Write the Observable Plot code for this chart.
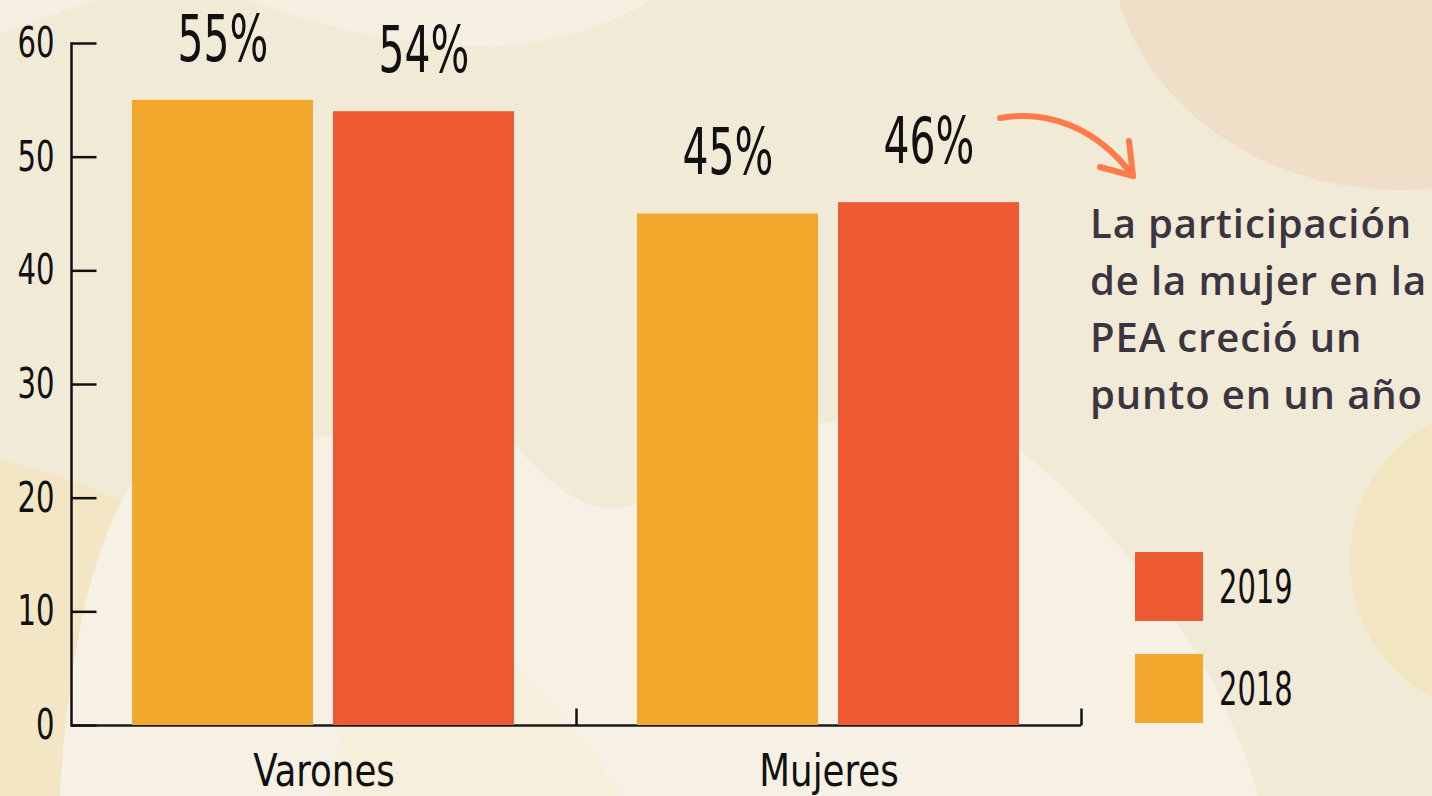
<!DOCTYPE html>
<html>
<head>
<meta charset="utf-8">
<script src="https://cdn.jsdelivr.net/npm/d3@7"></script>
<script src="https://cdn.jsdelivr.net/npm/@observablehq/plot@0.6"></script>
<style>
  html, body { margin: 0; padding: 0; background: #F1EAD7; }
  #wrap { position: relative; width: 1432px; height: 796px; overflow: hidden; }
  #bg, #chart, #arrow { position: absolute; left: 0; top: 0; }
  .cond { font-family: "DejaVu Sans Condensed", "DejaVu Sans", sans-serif; font-stretch: condensed; }
  #note { position: absolute; left: 1090px; top: 194px; font-family: "Open Sans", "Noto Sans", sans-serif; font-weight: 600;
          font-size: 40px; line-height: 57px; letter-spacing: 0.9px; color: #3A3541; white-space: nowrap; }
  #legend { position: absolute; left: 1135px; top: 552px; }
  .item { display: flex; align-items: center; height: 69px; margin-bottom: 33px; }
  .sw { width: 68px; height: 69px; margin-right: 16px; flex: none; }
  .lab { font-size: 46px; color: #111; display: inline-block; transform: scaleX(0.7); transform-origin: left center; }
</style>
</head>
<body>
<div id="wrap">
  <svg id="bg" width="1432" height="796">
    <path d="M0,460 C50,470 100,492 150,512 L150,796 L0,796 Z" fill="#F2E6C4"/>
    <path d="M60,796 C68,650 95,530 140,472 C250,432 420,425 515,445 C555,490 585,510 615,508 C660,505 700,470 760,440 C880,400 960,420 1020,450 C1130,540 1220,660 1258,796 Z" fill="#F7F1E5"/>
    <path d="M420,600 C480,625 560,700 622,796 L330,796 C345,700 370,630 420,600 Z" fill="#F5EFDC"/>
    <path d="M0,0 L0,33 C40,20 70,8 95,0 Z" fill="#F6F0E3"/>
    <path d="M250,0 C330,30 420,50 500,46 C570,40 620,20 650,0 Z" fill="#F6F0E3"/>
    <ellipse cx="1400" cy="-60" rx="290" ry="250" fill="#F0DFC8"/>
    <ellipse cx="1490" cy="560" rx="140" ry="150" fill="#F2E6C2"/>
  </svg>
  <div id="chart" class="cond"></div>
  <svg id="arrow" width="1432" height="796">
    <g fill="none" stroke="#FF7B4C" stroke-width="6" stroke-linecap="round" stroke-linejoin="round">
      <path d="M1000,118 C1045,110 1095,125 1133,176"/>
      <path d="M1129,141 L1133,176 L1100,167"/>
    </g>
  </svg>
  <div id="note">La participación<br>de la mujer en la<br>PEA creció un<br>punto en un año</div>
  <div id="legend" class="cond"></div>
</div>
<script>
// ---- data ----
const groups = ["Varones", "Mujeres"];
const years = ["2018", "2019"];
const values2018 = [55, 45];
const values2019 = [54, 46];
const yTicks = [0, 10, 20, 30, 40, 50, 60];
const yearColors = ["#F1A82C", "#EE5A34"];
const legendOrder = ["2019", "2018"];

const rows = groups.flatMap((g, i) => [
  {group: g, year: years[0], value: values2018[i]},
  {group: g, year: years[1], value: values2019[i]}
]);

const ink = "#111";
const hTick = {draw(ctx) { ctx.moveTo(0, 0); ctx.lineTo(25, 0); }};
const vTick = {draw(ctx) { ctx.moveTo(0, 0); ctx.lineTo(0, -17); }};

const chart = Plot.plot({
  width: 1432,
  height: 796,
  marginLeft: 70,
  marginRight: 351,
  marginTop: 43,
  marginBottom: 71,
  style: {background: "transparent", color: ink, overflow: "visible",
          fontFamily: '"DejaVu Sans Condensed", "DejaVu Sans", sans-serif'},
  fx: {domain: groups, paddingInner: 0, paddingOuter: 0},
  x: {domain: years, paddingInner: 0.099, paddingOuter: 0.3, axis: null},
  y: {domain: [0, 60]},
  color: {domain: years, range: yearColors},
  marks: [
    Plot.ruleY([0], {stroke: "#1a1a1a", strokeWidth: 2.5}),
    Plot.dot([0], {frameAnchor: "bottom-right", symbol: vTick, r: 5, fill: "none", stroke: ink, strokeWidth: 2.5}),
    Plot.barY(rows, {fx: "group", x: "year", y: "value", fill: "year"}),
    Plot.text(rows, {fx: "group", x: "year", y: "value", text: d => `${d.value}%`, dy: -60, fontSize: 64, fill: ink}),
    Plot.frame({anchor: "left", facetAnchor: "left", stroke: ink, strokeWidth: 2.5}),
    Plot.dot(yTicks, {y: d => d, frameAnchor: "left", facetAnchor: "left", symbol: hTick, r: 5, fill: "none", stroke: ink, strokeWidth: 2.5}),
    Plot.axisY(yTicks, {tickSize: 0, tickPadding: 17, fontSize: 42, label: null, fill: ink}),
    Plot.axisFx({anchor: "bottom", tickSize: 0, tickPadding: 29, fontSize: 44, label: null, fill: ink})
  ]
});

// narrow the lettering horizontally (the original uses a very narrow face);
// keep Plot's own placement and only append a horizontal scale.
function squeeze(selector, s) {
  chart.querySelectorAll(selector).forEach(t => {
    const x = t.getAttribute("x");
    if (x != null && !isNaN(+x)) t.setAttribute("x", +x / s);
    const tr = t.getAttribute("transform") || "";
    t.setAttribute("transform", `${tr} scale(${s},1)`);
  });
}
squeeze('g[aria-label="text"] text', 0.71);
squeeze('g[aria-label="y-axis tick label"] text', 0.77);
squeeze('g[aria-label="fx-axis tick label"] text', 0.9);

document.getElementById("chart").appendChild(chart);

// legend built from the chart's own color scale
const colorScale = chart.scale("color");
const legend = document.getElementById("legend");
for (const y of legendOrder) {
  const item = document.createElement("div");
  item.className = "item";
  const sw = document.createElement("div");
  sw.className = "sw";
  sw.style.background = colorScale.apply(y);
  const lab = document.createElement("span");
  lab.className = "lab";
  lab.textContent = y;
  item.appendChild(sw);
  item.appendChild(lab);
  legend.appendChild(item);
}
</script>
</body>
</html>
